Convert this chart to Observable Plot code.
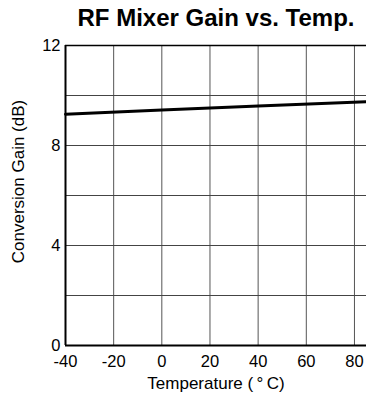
<!DOCTYPE html>
<html><head><meta charset="utf-8">
<script src="https://cdn.jsdelivr.net/npm/d3@7"></script>
<script src="https://cdn.jsdelivr.net/npm/@observablehq/plot@0.6"></script>
<style>body{margin:0;background:#fff;} svg{display:block;}</style>
</head><body><div id="chart"></div>
<script>
const temperature = [-40, 0, 40, 85];
const gain = [9.25, 9.42, 9.58, 9.75];
const xTicks = [-40, -20, 0, 20, 40, 60, 80];
const yTicks = [0, 4, 8, 12];
const yGrid = [2, 4, 6, 8, 10];
const title = "RF Mixer Gain vs. Temp.";
const xLabel = "Temperature (\u2009°\u2009C)";
const yLabel = "Conversion Gain (dB)";

const data = temperature.map((t, i) => ({t, g: gain[i]}));
const fmt = d => String(d);

const chart = Plot.plot({
  width: 366, height: 396,
  marginLeft: 65, marginRight: 0, marginTop: 45, marginBottom: 51,
  style: {fontFamily: "'Liberation Sans', Arial, sans-serif", fontSize: "16px", color: "#000", background: "#fff"},
  x: {domain: [-40, 85], label: null},
  y: {domain: [0, 12], label: null},
  marks: [
    Plot.ruleX(xTicks.slice(1), {stroke: "#555", strokeWidth: 1}),
    Plot.ruleY(yGrid, {stroke: "#444", strokeWidth: 1}),
    Plot.ruleY([12], {stroke: "#000", strokeWidth: 1.5}),
    Plot.ruleY([0], {stroke: "#000", strokeWidth: 2}),
    Plot.ruleX([-40], {stroke: "#000", strokeWidth: 2}),
    Plot.axisX({ticks: xTicks, tickSize: 0, tickPadding: 10, tickFormat: fmt, fontSize: 16.5, label: null}),
    Plot.axisY({ticks: yTicks, tickSize: 0, tickPadding: 5, tickFormat: fmt, fontSize: 16.5, label: null}),
    Plot.line(data, {x: "t", y: "g", stroke: "#000", strokeWidth: 3}),
    Plot.text([title], {frameAnchor: "top", lineAnchor: "middle", dy: -27, fontSize: 24, fontWeight: "bold", fill: "#000"}),
    Plot.text([xLabel], {frameAnchor: "bottom", lineAnchor: "middle", dy: 38, fontSize: 17, fill: "#000"}),
    Plot.text([yLabel], {frameAnchor: "left", textAnchor: "middle", lineAnchor: "middle", dx: -47, dy: -14, rotate: -90, fontSize: 17, fill: "#000"})
  ]
});
document.getElementById("chart").append(chart);
</script></body></html>
